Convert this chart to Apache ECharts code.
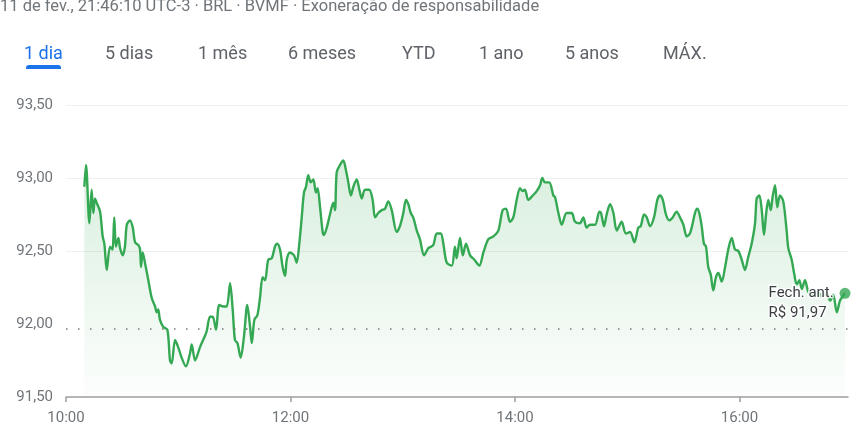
<!DOCTYPE html>
<html>
<head>
<meta charset="utf-8">
<script src="https://cdn.jsdelivr.net/npm/echarts@6/dist/echarts.min.js"></script>
<style>
html,body{margin:0;padding:0;background:#fff;}
#chart{width:858px;height:433px;}
</style>
</head>
<body>
<div id="chart"></div>
<script>
// ---- data ----
const headerText = "11 de fev., 21:46:10 UTC-3 · BRL · BVMF · Exoneração de responsabilidade";
const tabLabels = ["1 dia", "5 dias", "1 mês", "6 meses", "YTD", "1 ano", "5 anos", "MÁX."];
const xTickLabels = ["10:00", "12:00", "14:00", "16:00"];
const yTickLabels = ["91,50", "92,00", "92,50", "93,00", "93,50"];
const prevClose = 91.97;
const prevCloseLabel = "Fech. ant.";
// minutes after 10:00
const minutes = [
9.8,10.7,12.5,13.7,14.6,15.5,16.4,18.2,19.6,20.5,21.8,23.5,24.8,25.8,26.7,28.0,28.9,30.3,31.5,32.5,34.2,35.7,36.9,38.7,39.6,40.1,41.0,42.2,44.0,45.8,47.6,48.5,49.3,50.2,52.0,54.2,55.6,56.5,58.3,60.0,61.8,64.1,66.3,67.2,69.0,71.6,74.3,75.2,77.0,78.4,80.2,
81.9,84.1,85.9,87.7,89.1,90.3,91.6,93.4,95.1,96.9,98.4,99.3,100.7,102.3,103.7,105.1,106.4,108.1,110.0,111.7,112.9,114.4,115.8,117.1,118.0,119.7,121.9,123.3,124.7,126.0,127.2,128.3,129.5,130.8,132.2,133.6,134.5,135.8,137.2,137.9,139.4,141.1,142.9,143.8,144.7,146.5,148.2,149.7,150.9,152.3,153.6,155.4,156.8,158.1,159.8,162.1,163.9,165.2,166.9,168.8,170.5,172.3,
174.1,176.8,178.5,180.3,181.7,183.0,184.3,185.6,187.5,189.2,191.4,193.7,196.3,198.2,200.3,201.7,203.5,206.2,207.9,208.8,210.6,212.1,213.8,216.0,218.3,220.9,223.1,225.7,228.4,231.1,233.4,235.2,237.3,239.1,240.9,242.7,244.1,245.3,247.1,249.5,251.6,253.4,254.6,256.0,258.3,260.5,
261.4,263.2,265.0,267.6,270.3,272.1,274.7,276.5,278.3,280.1,282.8,285.1,286.0,287.6,289.0,290.8,292.6,294.4,297.0,299.3,301.5,303.8,305.9,307.2,309.0,310.4,312.2,314.3,316.1,317.5,319.0,320.7,322.5,324.3,326.4,328.2,330.0,331.8,333.5,335.0,336.2,337.4,338.5,339.8,341.0,342.1,
343.3,344.6,346.0,347.4,348.7,350.5,352.3,354.0,355.8,357.6,359.4,361.2,362.9,364.7,366.5,368.3,369.2,370.6,371.9,373.1,374.2,375.4,376.7,377.7,379.0,380.2,381.6,383.4,385.2,386.1,387.9,389.3,390.6,392.0,393.3,395.0,396.8,398.6,400.4,402.1,403.9,406.6,408.4,410.1,412.0,413.7,415.2,416.4
];
const prices = [
92.94,93.09,92.69,92.92,92.76,92.86,92.83,92.77,92.60,92.55,92.37,92.53,92.51,92.73,92.53,92.59,92.52,92.47,92.53,92.68,92.71,92.66,92.56,92.54,92.51,92.39,92.49,92.42,92.30,92.18,92.12,92.08,92.10,92.03,91.98,91.96,91.75,91.73,91.89,91.84,91.77,91.71,91.80,91.86,91.75,91.84,91.92,91.95,92.05,92.05,91.96,
92.13,92.12,92.12,92.28,92.10,91.89,91.87,91.77,91.91,92.13,91.98,91.87,92.03,92.06,92.18,92.32,92.30,92.44,92.45,92.53,92.55,92.51,92.39,92.33,92.44,92.49,92.47,92.42,92.55,92.73,92.90,92.94,93.02,92.97,92.99,92.90,92.93,92.80,92.63,92.61,92.66,92.75,92.83,92.78,93.04,93.09,93.12,93.05,92.97,92.88,92.94,92.99,92.92,92.86,92.92,92.92,92.85,92.73,92.76,92.78,92.79,92.84,
92.78,92.63,92.67,92.76,92.85,92.82,92.76,92.73,92.64,92.58,92.47,92.52,92.54,92.62,92.62,92.55,92.42,92.40,92.53,92.45,92.59,92.47,92.55,92.47,92.44,92.40,92.49,92.58,92.60,92.64,92.78,92.79,92.70,92.73,92.85,92.93,92.91,92.92,92.85,92.88,92.91,92.95,93.00,92.97,92.97,92.88,
92.87,92.76,92.68,92.76,92.76,92.70,92.69,92.73,92.66,92.68,92.68,92.77,92.76,92.67,92.75,92.82,92.76,92.64,92.70,92.62,92.63,92.56,92.66,92.67,92.75,92.73,92.67,92.73,92.85,92.88,92.85,92.75,92.71,92.73,92.77,92.73,92.68,92.60,92.62,92.69,92.76,92.79,92.76,92.67,92.55,92.53,
92.39,92.34,92.23,92.32,92.35,92.29,92.39,92.51,92.59,92.51,92.50,92.44,92.37,92.46,92.55,92.69,92.86,92.88,92.78,92.61,92.75,92.85,92.78,92.87,92.95,92.80,92.88,92.84,92.64,92.52,92.44,92.34,92.27,92.30,92.24,92.30,92.22,92.21,92.20,92.22,92.19,92.21,92.16,92.20,92.08,92.16,92.19,92.21
];

// ---- helpers ----
const OPEN = 600; // 10:00 in minutes
function hm(str){ const p = str.split(':'); return (+p[0])*60 + (+p[1]); }
function fmtHM(v){ const h = Math.floor(v/60), m = Math.round(v%60); return h + ':' + (m<10?'0':'') + m; }
function fmtBR(v){ return v.toFixed(2).replace('.', ','); }
const xTicks = xTickLabels.map(hm);
const yTicks = yTickLabels.map(s => parseFloat(s.replace(',', '.')));
const seriesData = minutes.map((m, i) => [OPEN + m, prices[i]]);
const last = seriesData[seriesData.length - 1];

const GREEN = '#34a853';
const FONT = 'Roboto, Arial, sans-serif';
const tabLeft = [24, 105, 198, 288, 402, 479, 565, 663];

const graphics = [
  { type: 'text', x: 0, y: 7, z: 100,
    style: { text: headerText, fill: '#70757a', font: '16.5px ' + FONT, textAlign: 'left', textVerticalAlign: 'middle' } }
];
tabLabels.forEach((t, i) => {
  graphics.push({ type: 'text', x: tabLeft[i], y: 54, z: 100,
    style: { text: t, fill: i === 0 ? '#1a73e8' : '#5f6368', font: '18px ' + FONT,
      textAlign: 'left', textVerticalAlign: 'middle' } });
});
graphics.push({ type: 'rect', left: 26, top: 65, z: 100,
  shape: { width: 35, height: 4, r: [3, 3, 0, 0] }, style: { fill: '#1a73e8' } });
graphics.push({ type: 'text', left: 767, top: 283, z: 100,
  style: { text: prevCloseLabel + '\nR$ ' + fmtBR(prevClose), fill: '#3c4043',
    font: '15px ' + FONT, lineHeight: 20,
    stroke: 'rgba(255,255,255,0.85)', lineWidth: 3 } });

const chart = echarts.init(document.getElementById('chart'), null, { renderer: 'canvas' });
chart.setOption({
  animation: false,
  backgroundColor: '#fff',
  textStyle: { fontFamily: FONT },
  grid: { left: 66, right: 10, top: 105, bottom: 36, containLabel: false },
  xAxis: {
    type: 'value', min: OPEN, max: 1018,
    axisLine: { show: true, lineStyle: { color: '#9e9e9e', width: 1.5 } },
    axisTick: { show: true, length: 5, customValues: xTicks, lineStyle: { color: '#9e9e9e', width: 1.5 } },
    axisLabel: { customValues: xTicks, margin: 14, color: '#70757a', fontSize: 15, fontFamily: FONT,
      formatter: v => xTicks.indexOf(v) >= 0 ? fmtHM(v) : '' },
    splitLine: { show: false }
  },
  yAxis: {
    type: 'value', min: yTicks[0], max: yTicks[yTicks.length - 1], interval: 0.5,
    axisLine: { show: false }, axisTick: { show: false },
    axisLabel: { margin: 13, color: '#70757a', fontSize: 15, fontFamily: FONT,
      formatter: v => fmtBR(v) },
    splitLine: { show: true, lineStyle: { color: ['rgba(0,0,0,0)', 'rgba(0,0,0,0)', '#efefef', '#efefef', '#efefef'], width: 1 } }
  },
  graphic: graphics,
  series: [
    {
      type: 'line', data: seriesData, showSymbol: false, smooth: 0.3,
      lineStyle: { color: GREEN, width: 2.4 },
      itemStyle: { color: GREEN },
      areaStyle: {
        color: new echarts.graphic.LinearGradient(0, 0, 0, 1, [
          { offset: 0, color: 'rgba(52,168,83,0.27)' },
          { offset: 1, color: 'rgba(52,168,83,0.02)' }
        ])
      },
      markLine: {
        silent: true, symbol: ['none', 'none'],
        label: { show: false },
        lineStyle: { color: '#777', width: 1.5, type: [1.5, 10.5] },
        data: [{ yAxis: prevClose }]
      },
      z: 2
    },
    {
      type: 'scatter', data: [last], symbolSize: 11,
      itemStyle: { color: GREEN }, z: 3
    }
  ]
});
</script>
</body>
</html>
